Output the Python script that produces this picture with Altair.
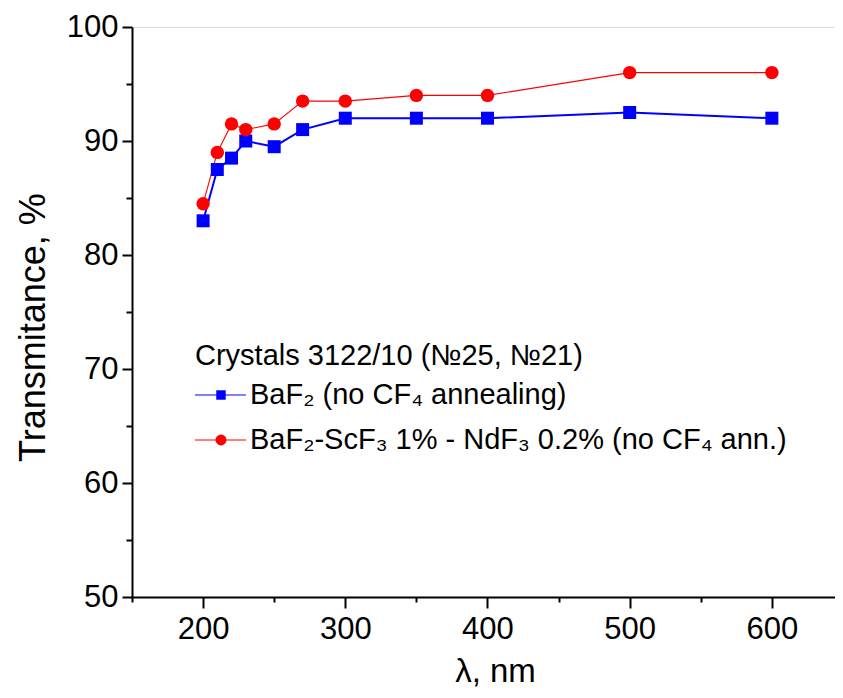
import altair as alt
import pandas as pd

# ---- data ----
wavelength = [200, 210, 220, 230, 250, 270, 300, 350, 400, 500, 600]
baf2 = [83.0, 87.5, 88.5, 90.0, 89.5, 91.0, 92.0, 92.0, 92.0, 92.5, 92.0]
baf2_scf3_ndf3 = [84.5, 89.0, 91.5, 91.0, 91.5, 93.5, 93.5, 94.0, 94.0, 96.0, 96.0]

series_names = ["BaF₂ (no CF₄ annealing)", "BaF₂-ScF₃ 1% - NdF₃ 0.2% (no CF₄ ann.)"]
legend_title = "Crystals 3122/10 (№25, №21)"
x_title = "λ, nm"
y_title = "Transmitance, %"
x_ticks = [150, 200, 250, 300, 350, 400, 450, 500, 550, 600]
y_ticks = [50, 55, 60, 65, 70, 75, 80, 85, 90, 95, 100]

FONT = "Liberation Sans, Arial, sans-serif"
BLUE = "#0000ff"
RED = "#ff0000"

df_blue = pd.DataFrame({"wl": wavelength, "T": baf2, "series": series_names[0]})
df_red = pd.DataFrame({"wl": wavelength, "T": baf2_scf3_ndf3, "series": series_names[1]})

# the reference axis runs 150-650 but is cropped at the image edge
x_enc = alt.X(
    "wl:Q",
    scale=alt.Scale(domain=[150, 644.4], nice=False, zero=False),
    axis=alt.Axis(
        values=x_ticks,
        labelExpr="datum.value % 100 == 0 ? datum.label : ''",
        tickSize={"condition": {"test": "datum.value % 100 == 0", "value": 11}, "value": 5},
        title=x_title,
        titleX=363,
        grid=False,
        domainColor="black", domainWidth=2,
        tickColor="black", tickWidth=2,
        labelFont=FONT, labelFontSize=31, labelColor="black", labelPadding=6,
        labelFlush=False, labelOverlap=False,
        titleFont=FONT, titleFontSize=33, titleFontWeight="normal", titleColor="black",
        titlePadding=11,
    ),
)
y_enc = alt.Y(
    "T:Q",
    scale=alt.Scale(domain=[50, 100], nice=False, zero=False),
    axis=alt.Axis(
        values=y_ticks,
        labelExpr="datum.value % 10 == 0 ? datum.label : ''",
        tickSize={"condition": {"test": "datum.value % 10 == 0", "value": 10}, "value": 6},
        title=y_title,
        titleY=300,
        grid=False,
        domainColor="black", domainWidth=2,
        tickColor="black", tickWidth=2,
        labelFont=FONT, labelFontSize=31, labelColor="black", labelPadding=4,
        labelFlush=False, labelOverlap=False,
        titleFont=FONT, titleFontSize=36, titleFontWeight="normal", titleColor="black",
        titlePadding=14,
    ),
)

blue_line = alt.Chart(df_blue).mark_line(color=BLUE, strokeWidth=2).encode(x=x_enc, y=y_enc)
red_line = alt.Chart(df_red).mark_line(color=RED, strokeWidth=1.1).encode(x=x_enc, y=y_enc)
blue_pts = alt.Chart(df_blue).mark_point(
    shape="square", filled=True, color=BLUE, opacity=1, size=169
).encode(x=x_enc, y=y_enc)
red_pts = alt.Chart(df_red).mark_point(
    shape="circle", filled=True, color=RED, opacity=1, size=180
).encode(x=x_enc, y=y_enc)

# ---- manual legend (pixel positions inside the plot area) ----
LX0, LX1, LXM, LXT = 63, 114, 89, 118
LY_TITLE, LY1, LY2 = 329, 368, 413
legend_df = pd.DataFrame({"k": [0]})

leg_title = alt.Chart(legend_df).mark_text(
    text=legend_title, align="left", baseline="middle", font=FONT, fontSize=29, color="black"
).encode(x=alt.value(LX0), y=alt.value(LY_TITLE))

leg_layers = [leg_title]
for name, color, shape, sw, sz, ly in [
    (series_names[0], BLUE, "square", 1.2, 90, LY1),
    (series_names[1], RED, "circle", 1.0, 120, LY2),
]:
    leg_layers.append(
        alt.Chart(legend_df).mark_rule(color=color, strokeWidth=sw).encode(
            x=alt.value(LX0), x2=alt.value(LX1), y=alt.value(ly)
        )
    )
    leg_layers.append(
        alt.Chart(legend_df).mark_point(shape=shape, filled=True, color=color, opacity=1, size=sz).encode(
            x=alt.value(LXM), y=alt.value(ly)
        )
    )
    leg_layers.append(
        alt.Chart(legend_df).mark_text(
            text=name, align="left", baseline="middle", font=FONT, fontSize=29, color="black"
        ).encode(x=alt.value(LXT), y=alt.value(ly))
    )

chart = alt.layer(blue_line, red_line, blue_pts, red_pts, *leg_layers).properties(
    width=703,
    height=570,
    autosize=alt.AutoSizeParams(type="none"),
    padding={"left": 124, "top": 19, "right": 0, "bottom": 93},
).configure_view(stroke="black", strokeWidth=2).configure(background="white")

chart.save("out.html", embed_options={"renderer": "svg", "actions": False})
